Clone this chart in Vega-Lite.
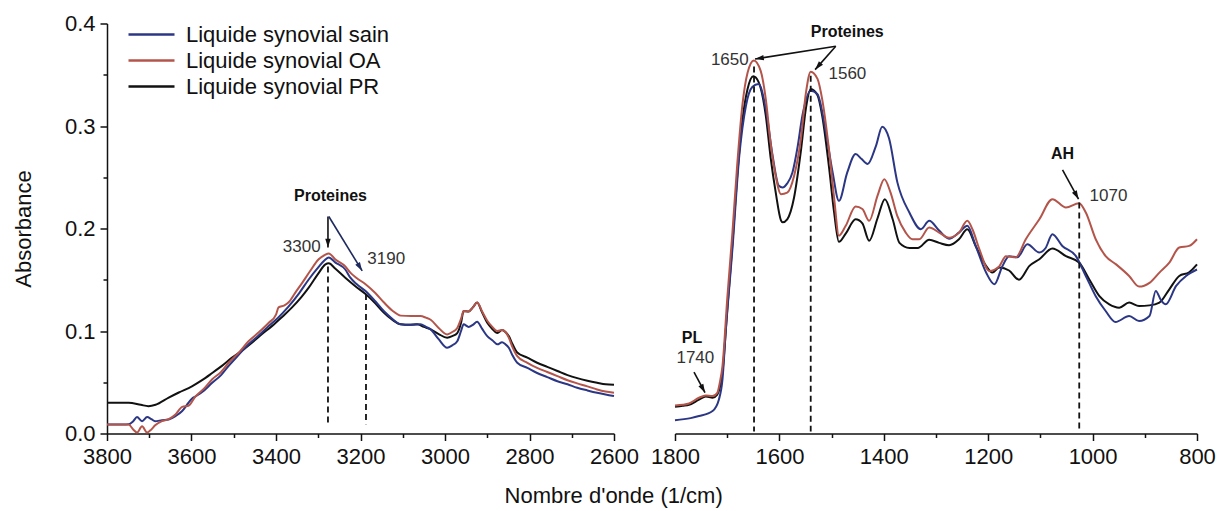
{
  "$schema": "https://vega.github.io/schema/vega-lite/v6.json",
  "background": "white",
  "padding": {"left": 12, "top": 12.5, "right": 5, "bottom": 5},
  "config": {
    "font": "Liberation Sans",
    "view": {"stroke": null},
    "axis": {"domainColor": "#111", "tickColor": "#111", "labelColor": "#111", "labelFont": "Liberation Sans", "labelFontSize": 22, "grid": false, "domainWidth": 1.5, "tickWidth": 1.5, "titleFont": "Liberation Sans", "titleFontSize": 22, "titleFontWeight": "normal", "titleColor": "#111"}
  },
  "title": {"text": "Nombre d'onde (1/cm)", "orient": "bottom", "anchor": "middle", "fontSize": 22, "fontWeight": "normal", "font": "Liberation Sans", "color": "#111", "offset": 18},
  "datasets": {
    "left": [
      {"series": "Liquide synovial PR", "nu": 3800, "A": 0.030},
      {"series": "Liquide synovial PR", "nu": 3770, "A": 0.030},
      {"series": "Liquide synovial PR", "nu": 3749, "A": 0.030},
      {"series": "Liquide synovial PR", "nu": 3720, "A": 0.028},
      {"series": "Liquide synovial PR", "nu": 3702, "A": 0.0267},
      {"series": "Liquide synovial PR", "nu": 3685, "A": 0.028},
      {"series": "Liquide synovial PR", "nu": 3654, "A": 0.035},
      {"series": "Liquide synovial PR", "nu": 3630, "A": 0.040},
      {"series": "Liquide synovial PR", "nu": 3599, "A": 0.046},
      {"series": "Liquide synovial PR", "nu": 3575, "A": 0.052},
      {"series": "Liquide synovial PR", "nu": 3551, "A": 0.059},
      {"series": "Liquide synovial PR", "nu": 3528, "A": 0.066},
      {"series": "Liquide synovial PR", "nu": 3504, "A": 0.074},
      {"series": "Liquide synovial PR", "nu": 3480, "A": 0.081},
      {"series": "Liquide synovial PR", "nu": 3457, "A": 0.0886},
      {"series": "Liquide synovial PR", "nu": 3433, "A": 0.097},
      {"series": "Liquide synovial PR", "nu": 3409, "A": 0.105},
      {"series": "Liquide synovial PR", "nu": 3385, "A": 0.114},
      {"series": "Liquide synovial PR", "nu": 3362, "A": 0.123},
      {"series": "Liquide synovial PR", "nu": 3340, "A": 0.133},
      {"series": "Liquide synovial PR", "nu": 3323, "A": 0.142},
      {"series": "Liquide synovial PR", "nu": 3300, "A": 0.156},
      {"series": "Liquide synovial PR", "nu": 3283, "A": 0.165},
      {"series": "Liquide synovial PR", "nu": 3275, "A": 0.166},
      {"series": "Liquide synovial PR", "nu": 3260, "A": 0.161},
      {"series": "Liquide synovial PR", "nu": 3236, "A": 0.152},
      {"series": "Liquide synovial PR", "nu": 3210, "A": 0.143},
      {"series": "Liquide synovial PR", "nu": 3188, "A": 0.136},
      {"series": "Liquide synovial PR", "nu": 3165, "A": 0.127},
      {"series": "Liquide synovial PR", "nu": 3145, "A": 0.118},
      {"series": "Liquide synovial PR", "nu": 3125, "A": 0.111},
      {"series": "Liquide synovial PR", "nu": 3105, "A": 0.1065},
      {"series": "Liquide synovial PR", "nu": 3085, "A": 0.106},
      {"series": "Liquide synovial PR", "nu": 3066, "A": 0.1065},
      {"series": "Liquide synovial PR", "nu": 3050, "A": 0.104},
      {"series": "Liquide synovial PR", "nu": 3034, "A": 0.1016},
      {"series": "Liquide synovial PR", "nu": 3015, "A": 0.097},
      {"series": "Liquide synovial PR", "nu": 2995, "A": 0.0935},
      {"series": "Liquide synovial PR", "nu": 2983, "A": 0.095},
      {"series": "Liquide synovial PR", "nu": 2971, "A": 0.098},
      {"series": "Liquide synovial PR", "nu": 2962, "A": 0.108},
      {"series": "Liquide synovial PR", "nu": 2956, "A": 0.1195},
      {"series": "Liquide synovial PR", "nu": 2944, "A": 0.119},
      {"series": "Liquide synovial PR", "nu": 2934, "A": 0.123},
      {"series": "Liquide synovial PR", "nu": 2924, "A": 0.1277},
      {"series": "Liquide synovial PR", "nu": 2912, "A": 0.118},
      {"series": "Liquide synovial PR", "nu": 2900, "A": 0.108},
      {"series": "Liquide synovial PR", "nu": 2888, "A": 0.102},
      {"series": "Liquide synovial PR", "nu": 2876, "A": 0.098},
      {"series": "Liquide synovial PR", "nu": 2865, "A": 0.101},
      {"series": "Liquide synovial PR", "nu": 2857, "A": 0.099},
      {"series": "Liquide synovial PR", "nu": 2849, "A": 0.095},
      {"series": "Liquide synovial PR", "nu": 2840, "A": 0.087},
      {"series": "Liquide synovial PR", "nu": 2829, "A": 0.079},
      {"series": "Liquide synovial PR", "nu": 2805, "A": 0.074},
      {"series": "Liquide synovial PR", "nu": 2782, "A": 0.069},
      {"series": "Liquide synovial PR", "nu": 2758, "A": 0.065},
      {"series": "Liquide synovial PR", "nu": 2734, "A": 0.061},
      {"series": "Liquide synovial PR", "nu": 2710, "A": 0.057},
      {"series": "Liquide synovial PR", "nu": 2687, "A": 0.054},
      {"series": "Liquide synovial PR", "nu": 2663, "A": 0.0515},
      {"series": "Liquide synovial PR", "nu": 2640, "A": 0.0495},
      {"series": "Liquide synovial PR", "nu": 2620, "A": 0.048},
      {"series": "Liquide synovial PR", "nu": 2600, "A": 0.0476},

      {"series": "Liquide synovial sain", "nu": 3800, "A": 0.0088},
      {"series": "Liquide synovial sain", "nu": 3760, "A": 0.0088},
      {"series": "Liquide synovial sain", "nu": 3749, "A": 0.009},
      {"series": "Liquide synovial sain", "nu": 3738, "A": 0.012},
      {"series": "Liquide synovial sain", "nu": 3729, "A": 0.016},
      {"series": "Liquide synovial sain", "nu": 3717, "A": 0.012},
      {"series": "Liquide synovial sain", "nu": 3705, "A": 0.016},
      {"series": "Liquide synovial sain", "nu": 3695, "A": 0.014},
      {"series": "Liquide synovial sain", "nu": 3686, "A": 0.012},
      {"series": "Liquide synovial sain", "nu": 3670, "A": 0.013},
      {"series": "Liquide synovial sain", "nu": 3654, "A": 0.0137},
      {"series": "Liquide synovial sain", "nu": 3638, "A": 0.017},
      {"series": "Liquide synovial sain", "nu": 3622, "A": 0.022},
      {"series": "Liquide synovial sain", "nu": 3607, "A": 0.030},
      {"series": "Liquide synovial sain", "nu": 3599, "A": 0.034},
      {"series": "Liquide synovial sain", "nu": 3591, "A": 0.036},
      {"series": "Liquide synovial sain", "nu": 3570, "A": 0.042},
      {"series": "Liquide synovial sain", "nu": 3551, "A": 0.0495},
      {"series": "Liquide synovial sain", "nu": 3530, "A": 0.057},
      {"series": "Liquide synovial sain", "nu": 3512, "A": 0.066},
      {"series": "Liquide synovial sain", "nu": 3490, "A": 0.076},
      {"series": "Liquide synovial sain", "nu": 3465, "A": 0.087},
      {"series": "Liquide synovial sain", "nu": 3440, "A": 0.096},
      {"series": "Liquide synovial sain", "nu": 3417, "A": 0.105},
      {"series": "Liquide synovial sain", "nu": 3395, "A": 0.113},
      {"series": "Liquide synovial sain", "nu": 3370, "A": 0.124},
      {"series": "Liquide synovial sain", "nu": 3345, "A": 0.137},
      {"series": "Liquide synovial sain", "nu": 3323, "A": 0.150},
      {"series": "Liquide synovial sain", "nu": 3300, "A": 0.162},
      {"series": "Liquide synovial sain", "nu": 3285, "A": 0.169},
      {"series": "Liquide synovial sain", "nu": 3275, "A": 0.1717},
      {"series": "Liquide synovial sain", "nu": 3260, "A": 0.167},
      {"series": "Liquide synovial sain", "nu": 3236, "A": 0.160},
      {"series": "Liquide synovial sain", "nu": 3224, "A": 0.152},
      {"series": "Liquide synovial sain", "nu": 3210, "A": 0.146},
      {"series": "Liquide synovial sain", "nu": 3188, "A": 0.139},
      {"series": "Liquide synovial sain", "nu": 3165, "A": 0.129},
      {"series": "Liquide synovial sain", "nu": 3145, "A": 0.1195},
      {"series": "Liquide synovial sain", "nu": 3125, "A": 0.112},
      {"series": "Liquide synovial sain", "nu": 3105, "A": 0.1065},
      {"series": "Liquide synovial sain", "nu": 3080, "A": 0.106},
      {"series": "Liquide synovial sain", "nu": 3058, "A": 0.1065},
      {"series": "Liquide synovial sain", "nu": 3045, "A": 0.104},
      {"series": "Liquide synovial sain", "nu": 3034, "A": 0.1016},
      {"series": "Liquide synovial sain", "nu": 3015, "A": 0.092},
      {"series": "Liquide synovial sain", "nu": 2995, "A": 0.0837},
      {"series": "Liquide synovial sain", "nu": 2983, "A": 0.086},
      {"series": "Liquide synovial sain", "nu": 2971, "A": 0.090},
      {"series": "Liquide synovial sain", "nu": 2962, "A": 0.100},
      {"series": "Liquide synovial sain", "nu": 2956, "A": 0.1065},
      {"series": "Liquide synovial sain", "nu": 2944, "A": 0.104},
      {"series": "Liquide synovial sain", "nu": 2934, "A": 0.106},
      {"series": "Liquide synovial sain", "nu": 2924, "A": 0.109},
      {"series": "Liquide synovial sain", "nu": 2912, "A": 0.102},
      {"series": "Liquide synovial sain", "nu": 2900, "A": 0.095},
      {"series": "Liquide synovial sain", "nu": 2888, "A": 0.091},
      {"series": "Liquide synovial sain", "nu": 2876, "A": 0.087},
      {"series": "Liquide synovial sain", "nu": 2865, "A": 0.089},
      {"series": "Liquide synovial sain", "nu": 2857, "A": 0.087},
      {"series": "Liquide synovial sain", "nu": 2849, "A": 0.0837},
      {"series": "Liquide synovial sain", "nu": 2840, "A": 0.076},
      {"series": "Liquide synovial sain", "nu": 2829, "A": 0.069},
      {"series": "Liquide synovial sain", "nu": 2805, "A": 0.064},
      {"series": "Liquide synovial sain", "nu": 2782, "A": 0.059},
      {"series": "Liquide synovial sain", "nu": 2758, "A": 0.055},
      {"series": "Liquide synovial sain", "nu": 2734, "A": 0.051},
      {"series": "Liquide synovial sain", "nu": 2710, "A": 0.048},
      {"series": "Liquide synovial sain", "nu": 2687, "A": 0.0446},
      {"series": "Liquide synovial sain", "nu": 2663, "A": 0.042},
      {"series": "Liquide synovial sain", "nu": 2640, "A": 0.0397},
      {"series": "Liquide synovial sain", "nu": 2620, "A": 0.038},
      {"series": "Liquide synovial sain", "nu": 2600, "A": 0.0365},

      {"series": "Liquide synovial OA", "nu": 3800, "A": 0.0088},
      {"series": "Liquide synovial OA", "nu": 3760, "A": 0.0088},
      {"series": "Liquide synovial OA", "nu": 3749, "A": 0.0088},
      {"series": "Liquide synovial OA", "nu": 3738, "A": 0.004},
      {"series": "Liquide synovial OA", "nu": 3729, "A": 0.001},
      {"series": "Liquide synovial OA", "nu": 3717, "A": 0.007},
      {"series": "Liquide synovial OA", "nu": 3705, "A": 0.001},
      {"series": "Liquide synovial OA", "nu": 3695, "A": 0.004},
      {"series": "Liquide synovial OA", "nu": 3686, "A": 0.008},
      {"series": "Liquide synovial OA", "nu": 3670, "A": 0.012},
      {"series": "Liquide synovial OA", "nu": 3654, "A": 0.014},
      {"series": "Liquide synovial OA", "nu": 3638, "A": 0.0186},
      {"series": "Liquide synovial OA", "nu": 3622, "A": 0.026},
      {"series": "Liquide synovial OA", "nu": 3607, "A": 0.027},
      {"series": "Liquide synovial OA", "nu": 3591, "A": 0.036},
      {"series": "Liquide synovial OA", "nu": 3570, "A": 0.044},
      {"series": "Liquide synovial OA", "nu": 3551, "A": 0.053},
      {"series": "Liquide synovial OA", "nu": 3530, "A": 0.060},
      {"series": "Liquide synovial OA", "nu": 3512, "A": 0.069},
      {"series": "Liquide synovial OA", "nu": 3490, "A": 0.078},
      {"series": "Liquide synovial OA", "nu": 3465, "A": 0.090},
      {"series": "Liquide synovial OA", "nu": 3440, "A": 0.099},
      {"series": "Liquide synovial OA", "nu": 3417, "A": 0.108},
      {"series": "Liquide synovial OA", "nu": 3400, "A": 0.116},
      {"series": "Liquide synovial OA", "nu": 3394, "A": 0.123},
      {"series": "Liquide synovial OA", "nu": 3380, "A": 0.125},
      {"series": "Liquide synovial OA", "nu": 3370, "A": 0.128},
      {"series": "Liquide synovial OA", "nu": 3355, "A": 0.137},
      {"series": "Liquide synovial OA", "nu": 3338, "A": 0.147},
      {"series": "Liquide synovial OA", "nu": 3320, "A": 0.158},
      {"series": "Liquide synovial OA", "nu": 3299, "A": 0.170},
      {"series": "Liquide synovial OA", "nu": 3285, "A": 0.174},
      {"series": "Liquide synovial OA", "nu": 3275, "A": 0.1757},
      {"series": "Liquide synovial OA", "nu": 3260, "A": 0.170},
      {"series": "Liquide synovial OA", "nu": 3236, "A": 0.163},
      {"series": "Liquide synovial OA", "nu": 3224, "A": 0.157},
      {"series": "Liquide synovial OA", "nu": 3210, "A": 0.152},
      {"series": "Liquide synovial OA", "nu": 3188, "A": 0.1456},
      {"series": "Liquide synovial OA", "nu": 3165, "A": 0.137},
      {"series": "Liquide synovial OA", "nu": 3145, "A": 0.128},
      {"series": "Liquide synovial OA", "nu": 3125, "A": 0.120},
      {"series": "Liquide synovial OA", "nu": 3105, "A": 0.115},
      {"series": "Liquide synovial OA", "nu": 3080, "A": 0.1146},
      {"series": "Liquide synovial OA", "nu": 3058, "A": 0.1146},
      {"series": "Liquide synovial OA", "nu": 3045, "A": 0.113},
      {"series": "Liquide synovial OA", "nu": 3034, "A": 0.111},
      {"series": "Liquide synovial OA", "nu": 3015, "A": 0.103},
      {"series": "Liquide synovial OA", "nu": 2995, "A": 0.0967},
      {"series": "Liquide synovial OA", "nu": 2983, "A": 0.099},
      {"series": "Liquide synovial OA", "nu": 2971, "A": 0.103},
      {"series": "Liquide synovial OA", "nu": 2962, "A": 0.112},
      {"series": "Liquide synovial OA", "nu": 2956, "A": 0.1195},
      {"series": "Liquide synovial OA", "nu": 2944, "A": 0.119},
      {"series": "Liquide synovial OA", "nu": 2934, "A": 0.123},
      {"series": "Liquide synovial OA", "nu": 2924, "A": 0.1277},
      {"series": "Liquide synovial OA", "nu": 2912, "A": 0.119},
      {"series": "Liquide synovial OA", "nu": 2900, "A": 0.110},
      {"series": "Liquide synovial OA", "nu": 2888, "A": 0.104},
      {"series": "Liquide synovial OA", "nu": 2876, "A": 0.100},
      {"series": "Liquide synovial OA", "nu": 2865, "A": 0.101},
      {"series": "Liquide synovial OA", "nu": 2857, "A": 0.099},
      {"series": "Liquide synovial OA", "nu": 2849, "A": 0.0935},
      {"series": "Liquide synovial OA", "nu": 2840, "A": 0.084},
      {"series": "Liquide synovial OA", "nu": 2829, "A": 0.0755},
      {"series": "Liquide synovial OA", "nu": 2805, "A": 0.069},
      {"series": "Liquide synovial OA", "nu": 2782, "A": 0.064},
      {"series": "Liquide synovial OA", "nu": 2758, "A": 0.060},
      {"series": "Liquide synovial OA", "nu": 2734, "A": 0.056},
      {"series": "Liquide synovial OA", "nu": 2710, "A": 0.052},
      {"series": "Liquide synovial OA", "nu": 2687, "A": 0.0489},
      {"series": "Liquide synovial OA", "nu": 2663, "A": 0.046},
      {"series": "Liquide synovial OA", "nu": 2640, "A": 0.043},
      {"series": "Liquide synovial OA", "nu": 2620, "A": 0.041},
      {"series": "Liquide synovial OA", "nu": 2600, "A": 0.0397}
    ],
    "right": [
      {"series": "Liquide synovial PR", "nu": 1800, "A": 0.026},
      {"series": "Liquide synovial PR", "nu": 1785, "A": 0.027},
      {"series": "Liquide synovial PR", "nu": 1773, "A": 0.028},
      {"series": "Liquide synovial PR", "nu": 1754, "A": 0.033},
      {"series": "Liquide synovial PR", "nu": 1741, "A": 0.036},
      {"series": "Liquide synovial PR", "nu": 1728, "A": 0.035},
      {"series": "Liquide synovial PR", "nu": 1719, "A": 0.038},
      {"series": "Liquide synovial PR", "nu": 1714, "A": 0.045},
      {"series": "Liquide synovial PR", "nu": 1709, "A": 0.060},
      {"series": "Liquide synovial PR", "nu": 1700, "A": 0.120},
      {"series": "Liquide synovial PR", "nu": 1690, "A": 0.185},
      {"series": "Liquide synovial PR", "nu": 1681, "A": 0.250},
      {"series": "Liquide synovial PR", "nu": 1671, "A": 0.305},
      {"series": "Liquide synovial PR", "nu": 1661, "A": 0.336},
      {"series": "Liquide synovial PR", "nu": 1650, "A": 0.3485},
      {"series": "Liquide synovial PR", "nu": 1640, "A": 0.343},
      {"series": "Liquide synovial PR", "nu": 1626, "A": 0.310},
      {"series": "Liquide synovial PR", "nu": 1617, "A": 0.270},
      {"series": "Liquide synovial PR", "nu": 1607, "A": 0.235},
      {"series": "Liquide synovial PR", "nu": 1597, "A": 0.208},
      {"series": "Liquide synovial PR", "nu": 1594, "A": 0.206},
      {"series": "Liquide synovial PR", "nu": 1585, "A": 0.209},
      {"series": "Liquide synovial PR", "nu": 1572, "A": 0.230},
      {"series": "Liquide synovial PR", "nu": 1559, "A": 0.275},
      {"series": "Liquide synovial PR", "nu": 1549, "A": 0.318},
      {"series": "Liquide synovial PR", "nu": 1540, "A": 0.336},
      {"series": "Liquide synovial PR", "nu": 1527, "A": 0.330},
      {"series": "Liquide synovial PR", "nu": 1518, "A": 0.310},
      {"series": "Liquide synovial PR", "nu": 1505, "A": 0.260},
      {"series": "Liquide synovial PR", "nu": 1495, "A": 0.215},
      {"series": "Liquide synovial PR", "nu": 1486, "A": 0.187},
      {"series": "Liquide synovial PR", "nu": 1473, "A": 0.195},
      {"series": "Liquide synovial PR", "nu": 1454, "A": 0.209},
      {"series": "Liquide synovial PR", "nu": 1441, "A": 0.205},
      {"series": "Liquide synovial PR", "nu": 1428, "A": 0.188},
      {"series": "Liquide synovial PR", "nu": 1412, "A": 0.210},
      {"series": "Liquide synovial PR", "nu": 1398, "A": 0.2286},
      {"series": "Liquide synovial PR", "nu": 1383, "A": 0.209},
      {"series": "Liquide synovial PR", "nu": 1370, "A": 0.186},
      {"series": "Liquide synovial PR", "nu": 1351, "A": 0.181},
      {"series": "Liquide synovial PR", "nu": 1335, "A": 0.181},
      {"series": "Liquide synovial PR", "nu": 1313, "A": 0.189},
      {"series": "Liquide synovial PR", "nu": 1294, "A": 0.186},
      {"series": "Liquide synovial PR", "nu": 1275, "A": 0.1837},
      {"series": "Liquide synovial PR", "nu": 1256, "A": 0.1895},
      {"series": "Liquide synovial PR", "nu": 1240, "A": 0.1993},
      {"series": "Liquide synovial PR", "nu": 1224, "A": 0.183},
      {"series": "Liquide synovial PR", "nu": 1204, "A": 0.1635},
      {"series": "Liquide synovial PR", "nu": 1192, "A": 0.157},
      {"series": "Liquide synovial PR", "nu": 1179, "A": 0.162},
      {"series": "Liquide synovial PR", "nu": 1160, "A": 0.159},
      {"series": "Liquide synovial PR", "nu": 1141, "A": 0.150},
      {"series": "Liquide synovial PR", "nu": 1121, "A": 0.1635},
      {"series": "Liquide synovial PR", "nu": 1102, "A": 0.170},
      {"series": "Liquide synovial PR", "nu": 1077, "A": 0.1805},
      {"series": "Liquide synovial PR", "nu": 1051, "A": 0.173},
      {"series": "Liquide synovial PR", "nu": 1026, "A": 0.1668},
      {"series": "Liquide synovial PR", "nu": 1006, "A": 0.150},
      {"series": "Liquide synovial PR", "nu": 987, "A": 0.134},
      {"series": "Liquide synovial PR", "nu": 968, "A": 0.126},
      {"series": "Liquide synovial PR", "nu": 949, "A": 0.1228},
      {"series": "Liquide synovial PR", "nu": 930, "A": 0.1277},
      {"series": "Liquide synovial PR", "nu": 911, "A": 0.1244},
      {"series": "Liquide synovial PR", "nu": 891, "A": 0.125},
      {"series": "Liquide synovial PR", "nu": 872, "A": 0.1277},
      {"series": "Liquide synovial PR", "nu": 853, "A": 0.1407},
      {"series": "Liquide synovial PR", "nu": 834, "A": 0.1537},
      {"series": "Liquide synovial PR", "nu": 815, "A": 0.1573},
      {"series": "Liquide synovial PR", "nu": 800, "A": 0.165},

      {"series": "Liquide synovial sain", "nu": 1800, "A": 0.013},
      {"series": "Liquide synovial sain", "nu": 1770, "A": 0.015},
      {"series": "Liquide synovial sain", "nu": 1754, "A": 0.017},
      {"series": "Liquide synovial sain", "nu": 1728, "A": 0.022},
      {"series": "Liquide synovial sain", "nu": 1716, "A": 0.033},
      {"series": "Liquide synovial sain", "nu": 1709, "A": 0.053},
      {"series": "Liquide synovial sain", "nu": 1703, "A": 0.098},
      {"series": "Liquide synovial sain", "nu": 1690, "A": 0.180},
      {"series": "Liquide synovial sain", "nu": 1677, "A": 0.270},
      {"series": "Liquide synovial sain", "nu": 1664, "A": 0.320},
      {"series": "Liquide synovial sain", "nu": 1652, "A": 0.338},
      {"series": "Liquide synovial sain", "nu": 1640, "A": 0.341},
      {"series": "Liquide synovial sain", "nu": 1626, "A": 0.3166},
      {"series": "Liquide synovial sain", "nu": 1613, "A": 0.271},
      {"series": "Liquide synovial sain", "nu": 1601, "A": 0.2416},
      {"series": "Liquide synovial sain", "nu": 1594, "A": 0.240},
      {"series": "Liquide synovial sain", "nu": 1585, "A": 0.244},
      {"series": "Liquide synovial sain", "nu": 1575, "A": 0.2547},
      {"series": "Liquide synovial sain", "nu": 1565, "A": 0.280},
      {"series": "Liquide synovial sain", "nu": 1556, "A": 0.310},
      {"series": "Liquide synovial sain", "nu": 1540, "A": 0.3345},
      {"series": "Liquide synovial sain", "nu": 1527, "A": 0.331},
      {"series": "Liquide synovial sain", "nu": 1511, "A": 0.294},
      {"series": "Liquide synovial sain", "nu": 1498, "A": 0.2547},
      {"series": "Liquide synovial sain", "nu": 1486, "A": 0.227},
      {"series": "Liquide synovial sain", "nu": 1470, "A": 0.2547},
      {"series": "Liquide synovial sain", "nu": 1454, "A": 0.2726},
      {"series": "Liquide synovial sain", "nu": 1443, "A": 0.268},
      {"series": "Liquide synovial sain", "nu": 1431, "A": 0.263},
      {"series": "Liquide synovial sain", "nu": 1415, "A": 0.2807},
      {"series": "Liquide synovial sain", "nu": 1403, "A": 0.2993},
      {"series": "Liquide synovial sain", "nu": 1390, "A": 0.288},
      {"series": "Liquide synovial sain", "nu": 1374, "A": 0.245},
      {"series": "Liquide synovial sain", "nu": 1351, "A": 0.2156},
      {"series": "Liquide synovial sain", "nu": 1329, "A": 0.1993},
      {"series": "Liquide synovial sain", "nu": 1313, "A": 0.2075},
      {"series": "Liquide synovial sain", "nu": 1294, "A": 0.198},
      {"series": "Liquide synovial sain", "nu": 1275, "A": 0.190},
      {"series": "Liquide synovial sain", "nu": 1256, "A": 0.196},
      {"series": "Liquide synovial sain", "nu": 1240, "A": 0.2026},
      {"series": "Liquide synovial sain", "nu": 1224, "A": 0.183},
      {"series": "Liquide synovial sain", "nu": 1204, "A": 0.157},
      {"series": "Liquide synovial sain", "nu": 1188, "A": 0.1456},
      {"series": "Liquide synovial sain", "nu": 1173, "A": 0.163},
      {"series": "Liquide synovial sain", "nu": 1160, "A": 0.173},
      {"series": "Liquide synovial sain", "nu": 1144, "A": 0.172},
      {"series": "Liquide synovial sain", "nu": 1125, "A": 0.1847},
      {"series": "Liquide synovial sain", "nu": 1102, "A": 0.1766},
      {"series": "Liquide synovial sain", "nu": 1090, "A": 0.181},
      {"series": "Liquide synovial sain", "nu": 1077, "A": 0.1944},
      {"series": "Liquide synovial sain", "nu": 1058, "A": 0.183},
      {"series": "Liquide synovial sain", "nu": 1032, "A": 0.173},
      {"series": "Liquide synovial sain", "nu": 1013, "A": 0.1537},
      {"series": "Liquide synovial sain", "nu": 994, "A": 0.134},
      {"series": "Liquide synovial sain", "nu": 975, "A": 0.1195},
      {"series": "Liquide synovial sain", "nu": 956, "A": 0.1088},
      {"series": "Liquide synovial sain", "nu": 930, "A": 0.1146},
      {"series": "Liquide synovial sain", "nu": 911, "A": 0.1097},
      {"series": "Liquide synovial sain", "nu": 891, "A": 0.1146},
      {"series": "Liquide synovial sain", "nu": 879, "A": 0.139},
      {"series": "Liquide synovial sain", "nu": 869, "A": 0.130},
      {"series": "Liquide synovial sain", "nu": 860, "A": 0.126},
      {"series": "Liquide synovial sain", "nu": 840, "A": 0.144},
      {"series": "Liquide synovial sain", "nu": 821, "A": 0.1537},
      {"series": "Liquide synovial sain", "nu": 800, "A": 0.160},

      {"series": "Liquide synovial OA", "nu": 1800, "A": 0.0274},
      {"series": "Liquide synovial OA", "nu": 1785, "A": 0.028},
      {"series": "Liquide synovial OA", "nu": 1773, "A": 0.0293},
      {"series": "Liquide synovial OA", "nu": 1754, "A": 0.0349},
      {"series": "Liquide synovial OA", "nu": 1741, "A": 0.037},
      {"series": "Liquide synovial OA", "nu": 1728, "A": 0.0365},
      {"series": "Liquide synovial OA", "nu": 1719, "A": 0.0397},
      {"series": "Liquide synovial OA", "nu": 1714, "A": 0.050},
      {"series": "Liquide synovial OA", "nu": 1709, "A": 0.066},
      {"series": "Liquide synovial OA", "nu": 1700, "A": 0.131},
      {"series": "Liquide synovial OA", "nu": 1690, "A": 0.196},
      {"series": "Liquide synovial OA", "nu": 1681, "A": 0.261},
      {"series": "Liquide synovial OA", "nu": 1671, "A": 0.320},
      {"series": "Liquide synovial OA", "nu": 1661, "A": 0.352},
      {"series": "Liquide synovial OA", "nu": 1649, "A": 0.364},
      {"series": "Liquide synovial OA", "nu": 1636, "A": 0.354},
      {"series": "Liquide synovial OA", "nu": 1626, "A": 0.326},
      {"series": "Liquide synovial OA", "nu": 1617, "A": 0.284},
      {"series": "Liquide synovial OA", "nu": 1607, "A": 0.251},
      {"series": "Liquide synovial OA", "nu": 1597, "A": 0.2335},
      {"series": "Liquide synovial OA", "nu": 1585, "A": 0.235},
      {"series": "Liquide synovial OA", "nu": 1572, "A": 0.251},
      {"series": "Liquide synovial OA", "nu": 1559, "A": 0.287},
      {"series": "Liquide synovial OA", "nu": 1549, "A": 0.333},
      {"series": "Liquide synovial OA", "nu": 1540, "A": 0.353},
      {"series": "Liquide synovial OA", "nu": 1527, "A": 0.346},
      {"series": "Liquide synovial OA", "nu": 1518, "A": 0.326},
      {"series": "Liquide synovial OA", "nu": 1505, "A": 0.277},
      {"series": "Liquide synovial OA", "nu": 1495, "A": 0.229},
      {"series": "Liquide synovial OA", "nu": 1486, "A": 0.193},
      {"series": "Liquide synovial OA", "nu": 1473, "A": 0.2026},
      {"series": "Liquide synovial OA", "nu": 1454, "A": 0.2215},
      {"series": "Liquide synovial OA", "nu": 1441, "A": 0.219},
      {"series": "Liquide synovial OA", "nu": 1428, "A": 0.2075},
      {"series": "Liquide synovial OA", "nu": 1412, "A": 0.232},
      {"series": "Liquide synovial OA", "nu": 1399, "A": 0.248},
      {"series": "Liquide synovial OA", "nu": 1387, "A": 0.235},
      {"series": "Liquide synovial OA", "nu": 1374, "A": 0.212},
      {"series": "Liquide synovial OA", "nu": 1358, "A": 0.196},
      {"series": "Liquide synovial OA", "nu": 1345, "A": 0.1895},
      {"series": "Liquide synovial OA", "nu": 1332, "A": 0.1895},
      {"series": "Liquide synovial OA", "nu": 1313, "A": 0.201},
      {"series": "Liquide synovial OA", "nu": 1294, "A": 0.196},
      {"series": "Liquide synovial OA", "nu": 1275, "A": 0.191},
      {"series": "Liquide synovial OA", "nu": 1256, "A": 0.196},
      {"series": "Liquide synovial OA", "nu": 1240, "A": 0.2075},
      {"series": "Liquide synovial OA", "nu": 1230, "A": 0.199},
      {"series": "Liquide synovial OA", "nu": 1217, "A": 0.180},
      {"series": "Liquide synovial OA", "nu": 1198, "A": 0.1586},
      {"series": "Liquide synovial OA", "nu": 1179, "A": 0.163},
      {"series": "Liquide synovial OA", "nu": 1166, "A": 0.173},
      {"series": "Liquide synovial OA", "nu": 1147, "A": 0.172},
      {"series": "Liquide synovial OA", "nu": 1128, "A": 0.1895},
      {"series": "Liquide synovial OA", "nu": 1102, "A": 0.209},
      {"series": "Liquide synovial OA", "nu": 1077, "A": 0.2286},
      {"series": "Liquide synovial OA", "nu": 1051, "A": 0.2205},
      {"series": "Liquide synovial OA", "nu": 1026, "A": 0.2247},
      {"series": "Liquide synovial OA", "nu": 1013, "A": 0.2156},
      {"series": "Liquide synovial OA", "nu": 994, "A": 0.1895},
      {"series": "Liquide synovial OA", "nu": 975, "A": 0.173},
      {"series": "Liquide synovial OA", "nu": 955, "A": 0.165},
      {"series": "Liquide synovial OA", "nu": 930, "A": 0.1537},
      {"series": "Liquide synovial OA", "nu": 911, "A": 0.1433},
      {"series": "Liquide synovial OA", "nu": 891, "A": 0.147},
      {"series": "Liquide synovial OA", "nu": 872, "A": 0.157},
      {"series": "Liquide synovial OA", "nu": 853, "A": 0.1668},
      {"series": "Liquide synovial OA", "nu": 834, "A": 0.1814},
      {"series": "Liquide synovial OA", "nu": 815, "A": 0.183},
      {"series": "Liquide synovial OA", "nu": 800, "A": 0.1895}
    ],
    "leftDash": [
      {"nu": 3277, "top": 0.163, "bottom": 0.010},
      {"nu": 3187, "top": 0.136, "bottom": 0.009}
    ],
    "leftArrows": [
      {"target": "3300", "nu1": 3277, "a1": 0.2117, "nu2": 3277, "a2": 0.1814},
      {"target": "3190", "nu1": 3275, "a1": 0.2117, "nu2": 3196, "a2": 0.1586}
    ],
    "leftText": [
      {"text": "Proteines", "kind": "group", "nu": 3271, "A": 0.2316},
      {"text": "3300", "kind": "peak", "nu": 3339, "A": 0.1824},
      {"text": "3190", "kind": "peak", "nu": 3139, "A": 0.170}
    ],
    "rightDash": [
      {"nu": 1648.6, "top": 0.358, "bottom": 0.002},
      {"nu": 1540, "top": 0.349, "bottom": 0.002},
      {"nu": 1025.6, "top": 0.2254, "bottom": 0.002}
    ],
    "rightArrows": [
      {"target": "1650", "nu1": 1492, "a1": 0.3778, "nu2": 1646.7, "a2": 0.3654},
      {"target": "1560", "nu1": 1492, "a1": 0.3778, "nu2": 1531.6, "a2": 0.355},
      {"target": "1740", "nu1": 1763.6, "a1": 0.0599, "nu2": 1742.5, "a2": 0.0398},
      {"target": "1070", "nu1": 1057.6, "a1": 0.2573, "nu2": 1026.9, "a2": 0.2286}
    ],
    "rightText": [
      {"text": "Proteines", "kind": "group", "nu": 1470, "A": 0.3918},
      {"text": "1650", "kind": "peak", "nu": 1695, "A": 0.3644},
      {"text": "1560", "kind": "peak", "nu": 1469.7, "A": 0.3508},
      {"text": "PL", "kind": "group", "nu": 1767.4, "A": 0.0935},
      {"text": "1740", "kind": "peak", "nu": 1761, "A": 0.074},
      {"text": "AH", "kind": "group", "nu": 1057.6, "A": 0.2726},
      {"text": "1070", "kind": "peak", "nu": 969.6, "A": 0.2319}
    ]
  },
  "hconcat": [
    {
      "width": 507,
      "height": 410,
      "layer": [
        {
          "data": {"name": "left"},
          "mark": {"type": "line", "strokeWidth": 2, "interpolate": "monotone"},
          "encoding": {
            "x": {"field": "nu", "type": "quantitative", "scale": {"domain": [2600, 3800], "reverse": true, "nice": false, "zero": false},
                  "axis": {"orient": "bottom", "values": [3800, 3600, 3400, 3200, 3000, 2800, 2600], "format": "d", "title": null, "tickSize": 7, "labelPadding": 6, "labelFlush": false, "labelOverlap": false}},
            "y": {"field": "A", "type": "quantitative", "scale": {"domain": [0, 0.4], "nice": false, "zero": false},
                  "axis": {"orient": "left", "values": [0, 0.1, 0.2, 0.3, 0.4], "format": ".1f", "title": "Absorbance", "tickSize": 7, "labelPadding": 5, "titleX": -77, "titleY": 205, "titleAngle": -90, "titleBaseline": "alphabetic", "titleAlign": "center", "labelFlush": false, "labelOverlap": false}},
            "color": {"field": "series", "type": "nominal",
                      "scale": {"domain": ["Liquide synovial sain", "Liquide synovial OA", "Liquide synovial PR"], "range": ["#2b3785", "#b4554b", "#111111"]},
                      "legend": {"orient": "none", "legendX": 20, "legendY": -2, "title": null, "symbolType": "stroke", "symbolSize": 2116, "symbolStrokeWidth": 2.5, "labelFontSize": 22, "labelFont": "Liberation Sans", "labelColor": "#111", "labelOffset": 10, "rowPadding": 0, "clipHeight": 26, "padding": 0, "labelLimit": 400}}
          }
        },
        {
          "data": {"name": "leftDash"},
          "mark": {"type": "rule", "strokeDash": [6, 4], "strokeWidth": 1.8, "color": "#111"},
          "encoding": {
            "x": {"field": "nu", "type": "quantitative", "scale": {"domain": [2600, 3800], "reverse": true, "nice": false, "zero": false},
                  "axis": {"orient": "bottom", "values": [3700, 3500, 3300, 3100, 2900, 2700], "labels": false, "domain": false, "tickSize": 4, "title": null}},
            "y": {"field": "top", "type": "quantitative", "scale": {"domain": [0, 0.4], "nice": false, "zero": false},
                  "axis": {"orient": "left", "values": [0.05, 0.15, 0.25, 0.35], "labels": false, "domain": false, "tickSize": 4, "title": null}},
            "y2": {"field": "bottom"}
          }
        },
        {
          "data": {"name": "leftArrows"},
          "transform": [{"filter": "datum.target == '3300'"}],
          "mark": {"type": "rule", "strokeWidth": 1.6, "color": "#111"},
          "encoding": {
            "x": {"field": "nu1", "type": "quantitative", "axis": null},
            "y": {"field": "a1", "type": "quantitative", "axis": null},
            "x2": {"field": "nu2"},
            "y2": {"field": "a2"}
          }
        },
        {
          "data": {"name": "leftArrows"},
          "transform": [{"filter": "datum.target == '3190'"}],
          "mark": {"type": "rule", "strokeWidth": 1.6, "color": "#1e2a5e"},
          "encoding": {
            "x": {"field": "nu1", "type": "quantitative", "axis": null},
            "y": {"field": "a1", "type": "quantitative", "axis": null},
            "x2": {"field": "nu2"},
            "y2": {"field": "a2"}
          }
        },
        {
          "data": {"name": "leftArrows"},
          "transform": [{"filter": "datum.target == '3300'"}],
          "mark": {"type": "point", "shape": "M0,0L0.5,1.6L-0.5,1.6Z", "filled": true, "opacity": 1, "size": 121, "angle": 180, "color": "#111"},
          "encoding": {
            "x": {"field": "nu2", "type": "quantitative", "axis": null},
            "y": {"field": "a2", "type": "quantitative", "axis": null}
          }
        },
        {
          "data": {"name": "leftArrows"},
          "transform": [{"filter": "datum.target == '3190'"}],
          "mark": {"type": "point", "shape": "M0,0L0.5,1.6L-0.5,1.6Z", "filled": true, "opacity": 1, "size": 121, "angle": 148.7, "color": "#1e2a5e"},
          "encoding": {
            "x": {"field": "nu2", "type": "quantitative", "axis": null},
            "y": {"field": "a2", "type": "quantitative", "axis": null}
          }
        },
        {
          "data": {"name": "leftText"},
          "transform": [{"filter": "datum.kind == 'group'"}],
          "mark": {"type": "text", "font": "Liberation Sans", "fontSize": 16, "fontWeight": "bold", "color": "#111", "align": "center", "baseline": "middle"},
          "encoding": {
            "x": {"field": "nu", "type": "quantitative", "axis": null},
            "y": {"field": "A", "type": "quantitative", "axis": null},
            "text": {"field": "text"}
          }
        },
        {
          "data": {"name": "leftText"},
          "transform": [{"filter": "datum.kind == 'peak'"}],
          "mark": {"type": "text", "font": "Liberation Sans", "fontSize": 17, "color": "#333", "align": "center", "baseline": "middle"},
          "encoding": {
            "x": {"field": "nu", "type": "quantitative", "axis": null},
            "y": {"field": "A", "type": "quantitative", "axis": null},
            "text": {"field": "text"}
          }
        }
      ],
      "resolve": {"axis": {"x": "independent", "y": "independent"}}
    },
    {
      "width": 522,
      "height": 410,
      "layer": [
        {
          "data": {"name": "right"},
          "mark": {"type": "line", "strokeWidth": 2, "interpolate": "monotone"},
          "encoding": {
            "x": {"field": "nu", "type": "quantitative", "scale": {"domain": [800, 1800], "reverse": true, "nice": false, "zero": false},
                  "axis": {"orient": "bottom", "values": [1800, 1600, 1400, 1200, 1000, 800], "format": "d", "title": null, "tickSize": 7, "labelPadding": 6, "labelFlush": false, "labelOverlap": false}},
            "y": {"field": "A", "type": "quantitative", "scale": {"domain": [0, 0.4], "nice": false, "zero": false}, "axis": null},
            "color": {"field": "series", "type": "nominal",
                      "scale": {"domain": ["Liquide synovial sain", "Liquide synovial OA", "Liquide synovial PR"], "range": ["#2b3785", "#b4554b", "#111111"]},
                      "legend": null}
          }
        },
        {
          "data": {"name": "rightDash"},
          "mark": {"type": "rule", "strokeDash": [6, 4], "strokeWidth": 1.8, "color": "#111"},
          "encoding": {
            "x": {"field": "nu", "type": "quantitative", "scale": {"domain": [800, 1800], "reverse": true, "nice": false, "zero": false},
                  "axis": {"orient": "bottom", "values": [1700, 1500, 1300, 1100, 900], "labels": false, "domain": false, "tickSize": 4, "title": null}},
            "y": {"field": "top", "type": "quantitative", "scale": {"domain": [0, 0.4], "nice": false, "zero": false}, "axis": null},
            "y2": {"field": "bottom"}
          }
        },
        {
          "data": {"name": "rightArrows"},
          "mark": {"type": "rule", "strokeWidth": 1.6, "color": "#111"},
          "encoding": {
            "x": {"field": "nu1", "type": "quantitative", "axis": null},
            "y": {"field": "a1", "type": "quantitative", "axis": null},
            "x2": {"field": "nu2"},
            "y2": {"field": "a2"}
          }
        },
        {
          "data": {"name": "rightArrows"},
          "transform": [{"filter": "datum.target == '1650'"}],
          "mark": {"type": "point", "shape": "M0,0L0.5,1.6L-0.5,1.6Z", "filled": true, "opacity": 1, "size": 121, "angle": 261.1, "color": "#111"},
          "encoding": {
            "x": {"field": "nu2", "type": "quantitative", "axis": null},
            "y": {"field": "a2", "type": "quantitative", "axis": null}
          }
        },
        {
          "data": {"name": "rightArrows"},
          "transform": [{"filter": "datum.target == '1560'"}],
          "mark": {"type": "point", "shape": "M0,0L0.5,1.6L-0.5,1.6Z", "filled": true, "opacity": 1, "size": 121, "angle": 221.5, "color": "#111"},
          "encoding": {
            "x": {"field": "nu2", "type": "quantitative", "axis": null},
            "y": {"field": "a2", "type": "quantitative", "axis": null}
          }
        },
        {
          "data": {"name": "rightArrows"},
          "transform": [{"filter": "datum.target == '1740'"}],
          "mark": {"type": "point", "shape": "M0,0L0.5,1.6L-0.5,1.6Z", "filled": true, "opacity": 1, "size": 121, "angle": 151.9, "color": "#111"},
          "encoding": {
            "x": {"field": "nu2", "type": "quantitative", "axis": null},
            "y": {"field": "a2", "type": "quantitative", "axis": null}
          }
        },
        {
          "data": {"name": "rightArrows"},
          "transform": [{"filter": "datum.target == '1070'"}],
          "mark": {"type": "point", "shape": "M0,0L0.5,1.6L-0.5,1.6Z", "filled": true, "opacity": 1, "size": 121, "angle": 151.4, "color": "#111"},
          "encoding": {
            "x": {"field": "nu2", "type": "quantitative", "axis": null},
            "y": {"field": "a2", "type": "quantitative", "axis": null}
          }
        },
        {
          "data": {"name": "rightText"},
          "transform": [{"filter": "datum.kind == 'group'"}],
          "mark": {"type": "text", "font": "Liberation Sans", "fontSize": 16, "fontWeight": "bold", "color": "#111", "align": "center", "baseline": "middle"},
          "encoding": {
            "x": {"field": "nu", "type": "quantitative", "axis": null},
            "y": {"field": "A", "type": "quantitative", "axis": null},
            "text": {"field": "text"}
          }
        },
        {
          "data": {"name": "rightText"},
          "transform": [{"filter": "datum.kind == 'peak'"}],
          "mark": {"type": "text", "font": "Liberation Sans", "fontSize": 17, "color": "#333", "align": "center", "baseline": "middle"},
          "encoding": {
            "x": {"field": "nu", "type": "quantitative", "axis": null},
            "y": {"field": "A", "type": "quantitative", "axis": null},
            "text": {"field": "text"}
          }
        }
      ],
      "resolve": {"axis": {"x": "independent"}}
    }
  ],
  "spacing": 61,
  "bounds": "flush",
  "resolve": {"scale": {"color": "independent"}, "legend": {"color": "independent"}}
}
